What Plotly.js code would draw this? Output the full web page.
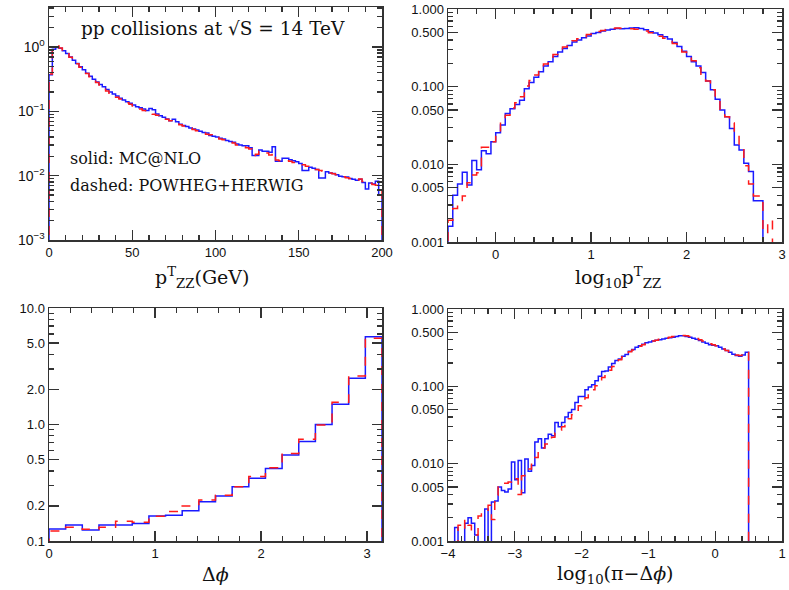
<!DOCTYPE html>
<html>
<head>
<meta charset="utf-8">
<script src="https://cdn.plot.ly/plotly-3.0.1.min.js"></script>
<style>
  html, body { margin: 0; padding: 0; background: #fff; }
  #chart { width: 789px; height: 590px; }
</style>
</head>
<body>
<div id="chart"></div>
<script>
// ===== Data =====
// p_T(ZZ), 2 GeV bins from 0 to 200
const ptBinWidth = 2;
const ptMcnlo = [
  0.37, 0.92, 0.98, 0.95, 0.87, 0.79, 0.70, 0.62, 0.55, 0.49,
  0.44, 0.39, 0.35, 0.315, 0.285, 0.26, 0.24, 0.218, 0.20, 0.186,
  0.172, 0.16, 0.15, 0.141, 0.133, 0.125, 0.118, 0.113, 0.108, 0.103,
  0.110, 0.106, 0.091, 0.085, 0.081, 0.076, 0.071, 0.075, 0.069, 0.063,
  0.060, 0.058, 0.055, 0.053, 0.051, 0.049, 0.047, 0.046, 0.042, 0.041,
  0.040, 0.038, 0.037, 0.035, 0.034, 0.033, 0.031, 0.030, 0.029, 0.029,
  0.027, 0.0205, 0.0205, 0.025, 0.024, 0.024, 0.023, 0.028, 0.0167, 0.0167,
  0.0187, 0.0187, 0.0177, 0.017, 0.0165, 0.0155, 0.012, 0.012, 0.0135, 0.013,
  0.0125, 0.0092, 0.0092, 0.0115, 0.011, 0.0108, 0.0103, 0.0098, 0.0096, 0.0095,
  0.009, 0.0088, 0.0085, 0.0088, 0.0078, 0.0062, 0.0077, 0.0074, 0.0082, 0.005
];
const ptPowheg = [
  0.38, 1.0, 1.03, 0.96, 0.87, 0.78, 0.69, 0.61, 0.545, 0.485,
  0.43, 0.385, 0.345, 0.31, 0.28, 0.255, 0.232, 0.207, 0.19, 0.178,
  0.165, 0.155, 0.145, 0.136, 0.128, 0.121, 0.115, 0.108, 0.103, 0.097,
  0.092, 0.090, 0.087, 0.083, 0.079, 0.075, 0.071, 0.068, 0.066, 0.062,
  0.059, 0.057, 0.055, 0.052, 0.050, 0.048, 0.046, 0.044, 0.043, 0.040,
  0.039, 0.037, 0.036, 0.0345, 0.033, 0.032, 0.030, 0.029, 0.028, 0.027,
  0.026, 0.0205, 0.0215, 0.024, 0.023, 0.0225, 0.021, 0.023, 0.0175, 0.017,
  0.0175, 0.017, 0.0168, 0.016, 0.0155, 0.015, 0.0147, 0.014, 0.0135, 0.013,
  0.0125, 0.012, 0.0117, 0.0113, 0.011, 0.0107, 0.0103, 0.0099, 0.0096, 0.0093,
  0.009, 0.0087, 0.0085, 0.0089, 0.0081, 0.0078, 0.0076, 0.0073, 0.0071, 0.0065
];

// log10 p_T(ZZ), 0.05 bins from -0.5
const logPtStart = -0.5;
const logPtBinWidth = 0.05;
const logPtMcnlo = [
  0.0016, 0.0040, 0.0056, 0.0079, 0.0054, 0.0112, 0.0085, 0.015, 0.0137, 0.0196,
  0.0255, 0.032, 0.045, 0.052, 0.059, 0.067, 0.094, 0.113, 0.132, 0.156,
  0.185, 0.21, 0.245, 0.28, 0.31, 0.34, 0.375, 0.40, 0.425, 0.45,
  0.485, 0.50, 0.52, 0.535, 0.55, 0.56, 0.555, 0.56, 0.57, 0.575,
  0.56, 0.54, 0.51, 0.49, 0.465, 0.44, 0.41, 0.37, 0.33, 0.285,
  0.245, 0.21, 0.185, 0.152, 0.118, 0.091, 0.069, 0.05, 0.041, 0.029,
  0.0178, 0.0153, 0.0103, 0.0081, 0.0034, 0.0034, 0.0002, 0.0002
];
const logPtPowheg = [
  0.0019, 0.0027, 0.0032, 0.0039, 0.0058, 0.0073, 0.0078, 0.0166, 0.0166, 0.0196,
  0.026, 0.037, 0.043, 0.053, 0.062, 0.074, 0.102, 0.12, 0.141, 0.167,
  0.196, 0.225, 0.26, 0.29, 0.325, 0.355, 0.39, 0.415, 0.44, 0.47,
  0.495, 0.515, 0.53, 0.545, 0.56, 0.57, 0.565, 0.56, 0.555, 0.55,
  0.54, 0.52, 0.495, 0.47, 0.445, 0.42, 0.395, 0.36, 0.32, 0.28,
  0.25, 0.215, 0.175, 0.14, 0.118, 0.091, 0.072, 0.05, 0.041, 0.034,
  0.026, 0.0173, 0.0096, 0.0056, 0.0039, 0.0039, 0.0002, 0.0019
];

// delta phi, 20 bins from 0 to pi
const dphiBins = 20;
const dphiMcnlo = [
  0.127, 0.137, 0.124, 0.137, 0.137, 0.141, 0.164, 0.166, 0.182, 0.217,
  0.243, 0.292, 0.345, 0.42, 0.547, 0.713, 1.0, 1.49, 2.5, 5.67
];
const dphiPowheg = [
  0.122, 0.131, 0.126, 0.131, 0.148, 0.145, 0.163, 0.179, 0.2, 0.225,
  0.247, 0.292, 0.357, 0.425, 0.565, 0.746, 0.99, 1.55, 2.61, 5.5
];

// log10(pi - delta phi), 0.05 bins from -4 to 0.5
const logDphiStart = -4;
const logDphiBinWidth = 0.05;
const logDphiMcnlo = [
  0.0005, 0.0005, 0.0015, 0.0005, 0.0005, 0.0017, 0.0020, 0.0017, 0.0012, 0.0005,
  0.0005, 0.0026, 0.0008, 0.0032, 0.0033, 0.0050, 0.0045, 0.0043, 0.0047, 0.0105,
  0.0062, 0.011, 0.0042, 0.0115, 0.0080, 0.0095, 0.019, 0.021, 0.016, 0.021,
  0.024, 0.023, 0.034, 0.030, 0.034, 0.040, 0.046, 0.050, 0.062, 0.074,
  0.074, 0.090, 0.098, 0.105, 0.118, 0.135, 0.155, 0.158, 0.178, 0.198,
  0.215, 0.225, 0.245, 0.258, 0.285, 0.30, 0.32, 0.335, 0.35, 0.365,
  0.375, 0.385, 0.395, 0.40, 0.41, 0.42, 0.425, 0.43, 0.44, 0.45,
  0.45, 0.44, 0.43, 0.42, 0.405, 0.39, 0.375, 0.36, 0.345, 0.34,
  0.335, 0.32, 0.305, 0.29, 0.275, 0.26, 0.25, 0.245, 0.255, 0.275
];
const logDphiPowheg = [
  0.0005, 0.0005, 0.0005, 0.0016, 0.0014, 0.0019, 0.0016, 0.0013, 0.0012, 0.0021,
  0.0023, 0.0023, 0.0029, 0.0019, 0.0039, 0.0051, 0.0053, 0.0056, 0.0058, 0.0066,
  0.0064, 0.0040, 0.0070, 0.0077, 0.0085, 0.0105, 0.012, 0.0145, 0.016, 0.018,
  0.020, 0.022, 0.025, 0.027, 0.030, 0.034, 0.038, 0.043, 0.049, 0.056,
  0.063, 0.071, 0.080, 0.090, 0.102, 0.115, 0.13, 0.145, 0.162, 0.18,
  0.20, 0.22, 0.24, 0.26, 0.28, 0.295, 0.315, 0.33, 0.345, 0.36,
  0.375, 0.385, 0.395, 0.405, 0.415, 0.42, 0.43, 0.44, 0.445, 0.45,
  0.455, 0.45, 0.44, 0.43, 0.415, 0.40, 0.385, 0.37, 0.355, 0.345,
  0.335, 0.32, 0.305, 0.29, 0.28, 0.265, 0.255, 0.25, 0.255, 0.28
];

// ===== Helpers =====
const W = 789, H = 590;
const FLOOR = 1e-6;  // below every axis, so edges drop out of the frame
const px = x => x / W;
const py = y => 1 - y / H;

function edgesFrom(start, width, n) {
  return Array.from({ length: n + 1 }, (_, i) => start + i * width);
}

// histogram outline as an hv step line
function stepTrace(edges, vals, color, dash, xa, ya) {
  const xs = [edges[0]], ys = [FLOOR];
  vals.forEach((v, i) => { xs.push(edges[i]); ys.push(v); });
  const last = edges[edges.length - 1];
  xs.push(last); ys.push(vals[vals.length - 1]);
  xs.push(last); ys.push(FLOOR);
  return {
    x: xs, y: ys, xaxis: xa, yaxis: ya,
    type: 'scatter', mode: 'lines',
    line: { shape: 'hv', color: color, width: 1.5, dash: dash },
    hoverinfo: 'skip', showlegend: false
  };
}

function minorLog(lo, hi, skip) {
  const out = [];
  for (let e = lo; e < hi; e++) {
    for (let m = 2; m <= 9; m++) {
      const v = m * Math.pow(10, e);
      if (!skip.includes(m)) out.push(v);
    }
  }
  return out;
}

const BLUE = '#1a1aff';
const RED = '#ff1a1a';
const FRAME = '#333';
const tickFont = { family: 'Liberation Sans, Arial, sans-serif', size: 13, color: '#111' };
const textFont = { family: 'DejaVu Serif, serif', size: 16, color: '#111' };

function baseAxis(extra) {
  return Object.assign({
    showline: true, linecolor: FRAME, linewidth: 1.5, mirror: 'allticks',
    ticks: 'inside', ticklen: 10, tickwidth: 1.3, tickcolor: FRAME,
    showgrid: false, zeroline: false, tickfont: tickFont, fixedrange: true
  }, extra);
}

// ===== Traces =====
const ptEdges = edgesFrom(0, ptBinWidth, ptMcnlo.length);
const logPtEdges = edgesFrom(logPtStart, logPtBinWidth, logPtMcnlo.length);
const dphiEdges = edgesFrom(0, Math.PI / dphiBins, dphiBins);
const logDphiEdges = edgesFrom(logDphiStart, logDphiBinWidth, logDphiMcnlo.length);

const traces = [
  stepTrace(ptEdges, ptMcnlo, BLUE, 'solid', 'x', 'y'),
  stepTrace(ptEdges, ptPowheg, RED, 'dash', 'x', 'y'),
  stepTrace(logPtEdges, logPtMcnlo, BLUE, 'solid', 'x2', 'y2'),
  stepTrace(logPtEdges, logPtPowheg, RED, 'dash', 'x2', 'y2'),
  stepTrace(dphiEdges, dphiMcnlo, BLUE, 'solid', 'x3', 'y3'),
  stepTrace(dphiEdges, dphiPowheg, RED, 'dash', 'x3', 'y3'),
  stepTrace(logDphiEdges, logDphiMcnlo, BLUE, 'solid', 'x4', 'y4'),
  stepTrace(logDphiEdges, logDphiPowheg, RED, 'dash', 'x4', 'y4')
];

// ===== Axes =====
const fracTicks = [0.001, 0.005, 0.01, 0.05, 0.1, 0.5, 1];
const fracText = ['0.001', '0.005', '0.010', '0.050', '0.100', '0.500', '1.000'];
const fracMinor = minorLog(-3, 0, [5]);

const layout = {
  width: W, height: H,
  margin: { l: 0, r: 0, t: 0, b: 0 },
  paper_bgcolor: '#fff', plot_bgcolor: '#fff',
  xaxis: baseAxis({
    domain: [px(49), px(382)], anchor: 'y', range: [0, 200],
    tickmode: 'array', tickvals: [0, 50, 100, 150, 200],
    minor: { dtick: 10, ticks: 'inside', ticklen: 5, tickcolor: FRAME, showgrid: false }
  }),
  yaxis: baseAxis({
    domain: [py(240), py(7)], anchor: 'x', type: 'log', range: [-3, 0.62],
    tickmode: 'array', tickvals: [0.001, 0.01, 0.1, 1],
    ticktext: ['10<sup>\u22123</sup>', '10<sup>\u22122</sup>', '10<sup>\u22121</sup>', '10<sup>0</sup>'],
    tickfont: Object.assign({}, tickFont, { size: 14 }),
    minor: { tickmode: 'array', tickvals: minorLog(-3, 1, []), ticks: 'inside', ticklen: 5, tickcolor: FRAME, showgrid: false }
  }),
  xaxis2: baseAxis({
    domain: [px(448), px(782)], anchor: 'y2', range: [-0.5, 3],
    tickmode: 'array', tickvals: [0, 1, 2, 3],
    minor: { dtick: 0.2, tick0: 0, ticks: 'inside', ticklen: 5, tickcolor: FRAME, showgrid: false }
  }),
  yaxis2: baseAxis({
    domain: [py(242), py(9)], anchor: 'x2', type: 'log', range: [-3, 0],
    tickmode: 'array', tickvals: fracTicks, ticktext: fracText,
    minor: { tickmode: 'array', tickvals: fracMinor, ticks: 'inside', ticklen: 5, tickcolor: FRAME, showgrid: false }
  }),
  xaxis3: baseAxis({
    domain: [px(49), px(382)], anchor: 'y3', range: [0, Math.PI],
    tickmode: 'array', tickvals: [0, 1, 2, 3],
    minor: { dtick: 0.2, tick0: 0, ticks: 'inside', ticklen: 5, tickcolor: FRAME, showgrid: false }
  }),
  yaxis3: baseAxis({
    domain: [py(541), py(308)], anchor: 'x3', type: 'log', range: [-1, 1],
    tickmode: 'array', tickvals: [0.1, 0.2, 0.5, 1, 2, 5, 10],
    ticktext: ['0.1', '0.2', '0.5', '1.0', '2.0', '5.0', '10.0'],
    minor: { tickmode: 'array', tickvals: minorLog(-1, 1, [2, 5]), ticks: 'inside', ticklen: 5, tickcolor: FRAME, showgrid: false }
  }),
  xaxis4: baseAxis({
    domain: [px(448), px(782)], anchor: 'y4', range: [-4, 1],
    tickmode: 'array', tickvals: [-4, -3, -2, -1, 0, 1],
    ticktext: ['\u22124', '\u22123', '\u22122', '\u22121', '0', '1'],
    minor: { dtick: 0.2, tick0: 0, ticks: 'inside', ticklen: 5, tickcolor: FRAME, showgrid: false }
  }),
  yaxis4: baseAxis({
    domain: [py(541), py(309)], anchor: 'x4', type: 'log', range: [-3, 0],
    tickmode: 'array', tickvals: fracTicks, ticktext: fracText,
    minor: { tickmode: 'array', tickvals: fracMinor, ticks: 'inside', ticklen: 5, tickcolor: FRAME, showgrid: false }
  }),
  annotations: [
    { text: 'pp collisions at \u221AS = 14 TeV', x: px(213), y: py(28), font: Object.assign({}, textFont, { size: 18.5 }) },
    { text: 'solid: MC@NLO', x: px(68), y: py(158), xanchor: 'left', font: textFont },
    { text: 'dashed: POWHEG+HERWIG', x: px(68), y: py(185), xanchor: 'left', font: textFont },
    { text: 'p<sup>T</sup><sub>ZZ</sub>(GeV)', x: px(202), y: py(277), font: Object.assign({}, textFont, { size: 19 }) },
    { text: 'log<sub>10</sub>p<sup>T</sup><sub>ZZ</sub>', x: px(618), y: py(277), font: Object.assign({}, textFont, { size: 19 }) },
    { text: '\u0394<i>\u03D5</i>', x: px(215), y: py(574), font: Object.assign({}, textFont, { size: 19 }) },
    { text: 'log<sub>10</sub>(\u03C0\u2212\u0394<i>\u03D5</i>)', x: px(615), y: py(574), font: Object.assign({}, textFont, { size: 19 }) }
  ].map(a => Object.assign({ xref: 'paper', yref: 'paper', showarrow: false, xanchor: 'center', yanchor: 'middle' }, a))
};

Plotly.newPlot('chart', traces, layout, { displayModeBar: false, staticPlot: true });
</script>
</body>
</html>
